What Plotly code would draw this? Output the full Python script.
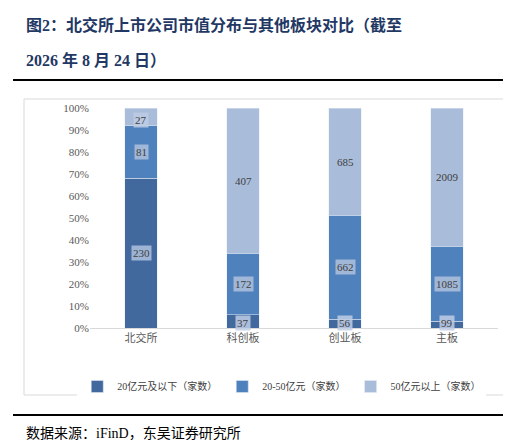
import plotly.graph_objects as go

categories = ["北交所", "科创板", "创业板", "主板"]
series_names = ["20亿元及以下（家数）", "20-50亿元（家数）", "50亿元以上（家数）"]
small = [230, 37, 56, 99]
mid = [81, 172, 662, 1085]
large = [27, 407, 685, 2009]
colors = ["#41699e", "#4f81bd", "#a9bcd9"]

W, H = 511, 440
FONT = "Liberation Serif, Noto Sans CJK SC"
ML, MR, MT, MB = 82, 21, 100, 120

fig = go.Figure()
for name, vals, c in zip(series_names, [small, mid, large], colors):
    fig.add_trace(go.Bar(x=categories, y=vals, name=name, marker_color=c, width=0.32))

# value labels with light boxes, placed at segment centres (percent scale)
series = [small, mid, large]
for i, cat in enumerate(categories):
    total = sum(s[i] for s in series)
    base = 0
    for s in series:
        pct = s[i] / total * 100
        yc = base + pct / 2
        if pct < 8:
            yc = base + 2.5
        fig.add_annotation(x=cat, y=yc, text=str(s[i]), showarrow=False,
                           bgcolor="rgba(190,205,228,0.85)" if pct < 8 else "rgba(169,188,217,0.9)",
                           font=dict(size=11, color="#404040", family=FONT), borderpad=1)
        base += pct

fig.update_layout(
    width=W, height=H, barmode="stack", barnorm="percent",
    paper_bgcolor="white", plot_bgcolor="white",
    margin=dict(l=ML, r=MR, t=MT, b=MB),
    font=dict(family=FONT, color="#595959", size=11),
    showlegend=True,
    legend=dict(orientation="h", x=0.47, xanchor="center", y=-0.2, yanchor="top",
                font=dict(size=10, color="#404040"), itemwidth=30,
                entrywidth=0, tracegroupgap=0, traceorder="normal"),
    xaxis=dict(showline=True, linecolor="#d9d9d9", tickfont=dict(size=11, color="#595959")),
    yaxis=dict(range=[0, 100], dtick=10, ticksuffix="%", showgrid=False,
               tickfont=dict(size=11, color="#595959")),
)

pw = W - ML - MR
ph = H - MT - MB
def xd(x): return (x - ML) / pw
def yd(y): return (H - MB - y) / ph

fig.add_shape(type="line", xref="paper", yref="paper", x0=xd(5), x1=xd(505), y0=yd(72), y1=yd(72),
              line=dict(color="black", width=2))
fig.add_shape(type="line", xref="paper", yref="paper", x0=xd(5), x1=xd(505), y0=yd(407), y1=yd(407),
              line=dict(color="black", width=2))
fig.add_shape(type="rect", xref="paper", yref="paper", x0=xd(16), x1=xd(505), y0=yd(91), y1=yd(387),
              line=dict(color="#d9d9d9", width=1))
fig.add_annotation(xref="paper", yref="paper", x=xd(16), y=yd(17), xanchor="left", yanchor="middle",
                   text="<b>图2：北交所上市公司市值分布与其他板块对比（截至</b>", showarrow=False,
                   font=dict(size=16, color="#1f3864"))
fig.add_annotation(xref="paper", yref="paper", x=xd(16), y=yd(52), xanchor="left", yanchor="middle",
                   text="<b>2026 年 8 月 24 日）</b>", showarrow=False,
                   font=dict(size=16, color="#1f3864"))
fig.add_annotation(xref="paper", yref="paper", x=xd(16), y=yd(425), xanchor="left", yanchor="middle",
                   text="数据来源：iFinD，东吴证券研究所", showarrow=False,
                   font=dict(size=14, color="black"))

fig.write_html("out.html")
